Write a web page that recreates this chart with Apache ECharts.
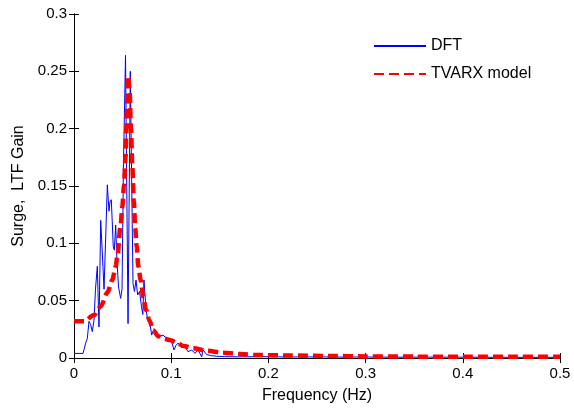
<!DOCTYPE html>
<html>
<head>
<meta charset="utf-8">
<script src="https://cdn.jsdelivr.net/npm/echarts@6/dist/echarts.min.js"></script>
<style>
html,body{margin:0;padding:0;background:#fff;}
#c{width:574px;height:412px;}
</style>
</head>
<body>
<div id="c"></div>
<script>
// DFT estimate (frequency in Hz, gain)
const dftFreq = [0, 0.0031, 0.0062, 0.0093, 0.0103, 0.0120, 0.0137, 0.0154, 0.0172, 0.0188,
  0.0206, 0.0221, 0.0240, 0.0257, 0.0275, 0.0309, 0.0343, 0.0360, 0.0370, 0.0384,
  0.0404, 0.0415, 0.0429, 0.0442, 0.0458, 0.0480, 0.0494, 0.0509, 0.0530, 0.0556,
  0.0579, 0.0607, 0.0622, 0.0638, 0.0655, 0.0674, 0.0694, 0.0708, 0.0720, 0.0741,
  0.0761, 0.0782, 0.0799, 0.0816, 0.0844, 0.0864, 0.0885, 0.0916, 0.0954, 0.0988,
  0.1005, 0.1029, 0.1049, 0.1070, 0.1108, 0.1142, 0.1173, 0.1211, 0.1245, 0.1276,
  0.1314, 0.1327, 0.1365, 0.1417, 0.1468, 0.155, 0.17, 0.19, 0.21, 0.23,
  0.25, 0.28, 0.30, 0.33, 0.36, 0.40, 0.45, 0.50];
const dftGain = [0.004, 0.004, 0.004, 0.004, 0.003, 0.013, 0.017, 0.032, 0.029, 0.023,
  0.033, 0.060, 0.080, 0.027, 0.120, 0.060, 0.151, 0.128, 0.136, 0.138,
  0.097, 0.094, 0.116, 0.085, 0.062, 0.052, 0.060, 0.170, 0.264, 0.030,
  0.250, 0.065, 0.058, 0.068, 0.055, 0.058, 0.045, 0.038, 0.068, 0.042,
  0.032, 0.030, 0.020, 0.024, 0.022, 0.023, 0.019, 0.020, 0.017, 0.016,
  0.014, 0.007, 0.011, 0.013, 0.009, 0.010, 0.0055, 0.007, 0.004, 0.007,
  0.001, 0.007, 0.003, 0.002, 0.0015, 0.0012, 0.001, 0.0012, 0.001, 0.0009,
  0.001, 0.0008, 0.0009, 0.0007, 0.0008, 0.0007, 0.0006, 0.0006];

// TVARX model estimate
const tvarxFreq = [0, 0.0103, 0.0206, 0.0275, 0.0343, 0.0394, 0.0429, 0.0445, 0.0480, 0.0497,
  0.0514, 0.0530, 0.0545, 0.0559, 0.0572, 0.0586, 0.0600, 0.0615, 0.0630, 0.0645,
  0.0662, 0.0686, 0.0713, 0.0741, 0.0775, 0.0816, 0.0867, 0.0919, 0.0988, 0.1056,
  0.1127, 0.1230, 0.1365, 0.1533, 0.1708, 0.1880, 0.22, 0.26, 0.30, 0.35,
  0.40, 0.45, 0.50];
const tvarxGain = [0.032, 0.032, 0.0375, 0.045, 0.057, 0.068, 0.080, 0.088, 0.116, 0.132,
  0.150, 0.175, 0.215, 0.246, 0.232, 0.200, 0.167, 0.137, 0.113, 0.097,
  0.080, 0.068, 0.053, 0.042, 0.033, 0.024, 0.019, 0.017, 0.0157, 0.0134,
  0.0105, 0.0084, 0.0064, 0.0046, 0.0035, 0.0026, 0.0022, 0.0018, 0.0014, 0.0012,
  0.0011, 0.001, 0.001];

const xRange = [0, 0.5, 0.1];
const yRange = [0, 0.3, 0.05];
const seriesNames = ['DFT', 'TVARX model'];

const FONT = '"Liberation Sans", Arial, sans-serif';
const pair = (xs, ys) => xs.map((x, i) => [x, ys[i]]);

const baseAxis = {
  type: 'value',
  axisLine: { show: true, lineStyle: { color: '#000', width: 1 } },
  axisTick: { show: true, inside: true, length: 5, lineStyle: { color: '#000' } },
  splitLine: { show: false },
  axisLabel: { color: '#000', fontFamily: FONT, fontSize: 15 }
};

const chart = echarts.init(document.getElementById('c'));
chart.setOption({
  animation: false,
  backgroundColor: '#fff',
  grid: { left: 74, right: 14, top: 14, bottom: 54 },
  legend: {
    orient: 'vertical',
    left: 373,
    top: 38,
    padding: 0,
    itemWidth: 52,
    itemHeight: 14,
    itemGap: 12,
    itemStyle: { opacity: 0 },
    textStyle: { color: '#000', fontFamily: FONT, fontSize: 16, padding: [0, 0, 0, 0] },
    data: seriesNames
  },
  xAxis: [
    Object.assign({}, baseAxis, {
      min: xRange[0], max: xRange[1], interval: xRange[2], position: 'bottom',
      name: 'Frequency (Hz)', nameLocation: 'middle', nameGap: 30,
      nameTextStyle: { color: '#000', fontFamily: FONT, fontSize: 16 },
      axisLabel: Object.assign({}, baseAxis.axisLabel, { margin: 8 })
    }),
    Object.assign({}, baseAxis, {
      min: xRange[0], max: xRange[1], interval: xRange[2], position: 'top',
      axisLabel: { show: false }
    })
  ],
  yAxis: [
    Object.assign({}, baseAxis, {
      min: yRange[0], max: yRange[1], interval: yRange[2], position: 'left',
      name: 'Surge,  LTF Gain', nameLocation: 'middle', nameGap: 46,
      nameTextStyle: { color: '#000', fontFamily: FONT, fontSize: 16 },
      axisLabel: Object.assign({}, baseAxis.axisLabel, { margin: 7 })
    }),
    Object.assign({}, baseAxis, {
      min: yRange[0], max: yRange[1], interval: yRange[2], position: 'right',
      axisLabel: { show: false }
    })
  ],
  series: [
    {
      name: seriesNames[0], type: 'line', xAxisIndex: 0, yAxisIndex: 0,
      data: pair(dftFreq, dftGain),
      showSymbol: false, symbolSize: 0,
      lineStyle: { color: '#0000ff', width: 1 },
      itemStyle: { color: '#0000ff' },
      z: 2
    },
    {
      name: seriesNames[1], type: 'line', xAxisIndex: 0, yAxisIndex: 0,
      data: pair(tvarxFreq, tvarxGain),
      showSymbol: false, symbolSize: 0,
      smooth: 0.3, smoothMonotone: 'x',
      lineStyle: { color: '#ff0000', width: 4.5, type: [10, 5] },
      itemStyle: { color: '#ff0000' },
      z: 3
    }
  ]
});
</script>
</body>
</html>
